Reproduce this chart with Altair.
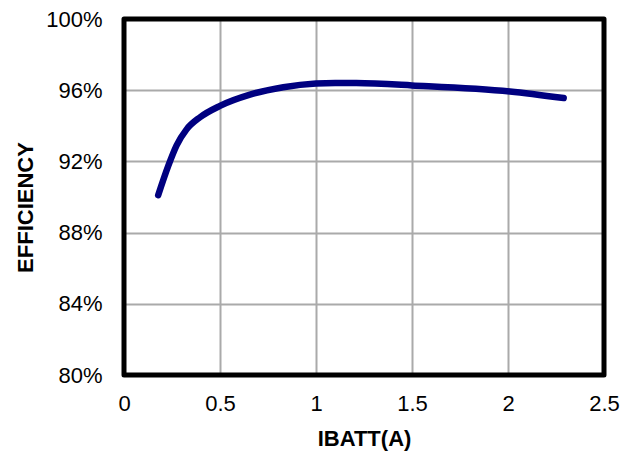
import altair as alt
import pandas as pd

ibatt = [0.178, 0.231, 0.274, 0.326, 0.396, 0.5, 0.656, 0.83, 1.0, 1.1, 1.21, 1.5, 2.01, 2.29]
efficiency = [90.1, 91.76, 92.9, 93.8, 94.48, 95.12, 95.75, 96.17, 96.38, 96.41, 96.4, 96.27, 95.93, 95.56]
y_ticks = [80, 84, 88, 92, 96, 100]
x_ticks = [0, 0.5, 1, 1.5, 2, 2.5]

df = pd.DataFrame({"IBATT": ibatt, "EFF": efficiency})

FONT = "Liberation Sans"
W, H = 480, 356

line = alt.Chart(df).mark_line(
    color="#000080", strokeWidth=6.5, strokeCap="round", interpolate="monotone"
).encode(
    x=alt.X("IBATT:Q", scale=alt.Scale(domain=[0, 2.5], nice=False),
            axis=alt.Axis(values=x_ticks, title="IBATT(A)", labelPadding=18,
                          titlePadding=14, labelExpr="format(datum.value, '~g')")),
    y=alt.Y("EFF:Q", scale=alt.Scale(domain=[80, 100], nice=False),
            axis=alt.Axis(values=y_ticks, title="EFFICIENCY", labelPadding=22,
                          labelExpr="datum.value + '%'", titleX=-99, titleY=188,
                          titleBaseline="middle", titleAlign="center", titleAngle=-90)),
)

frame = alt.Chart(pd.DataFrame({"k": [0]})).mark_rect(
    fill=None, stroke="black", strokeWidth=5, strokeJoin="round"
).encode(
    x=alt.value(0), x2=alt.value(W), y=alt.value(0), y2=alt.value(H)
)

chart = alt.layer(line, frame).properties(
    width=W, height=H,
    autosize=alt.AutoSizeParams(type="none"),
    padding={"left": 116, "top": 11, "right": 22, "bottom": 85},
).configure_view(
    stroke=None
).configure_axis(
    domain=False, ticks=False, grid=True, gridColor="#aaaaaa", gridWidth=2,
    labelFont=FONT, labelFontSize=22, labelColor="black",
    titleFont=FONT, titleFontSize=22, titleFontWeight="bold", titleColor="black",
    labelFlush=False, labelOverlap=False,
)

chart.save("out.html", embed_options={"renderer": "svg", "actions": False})
